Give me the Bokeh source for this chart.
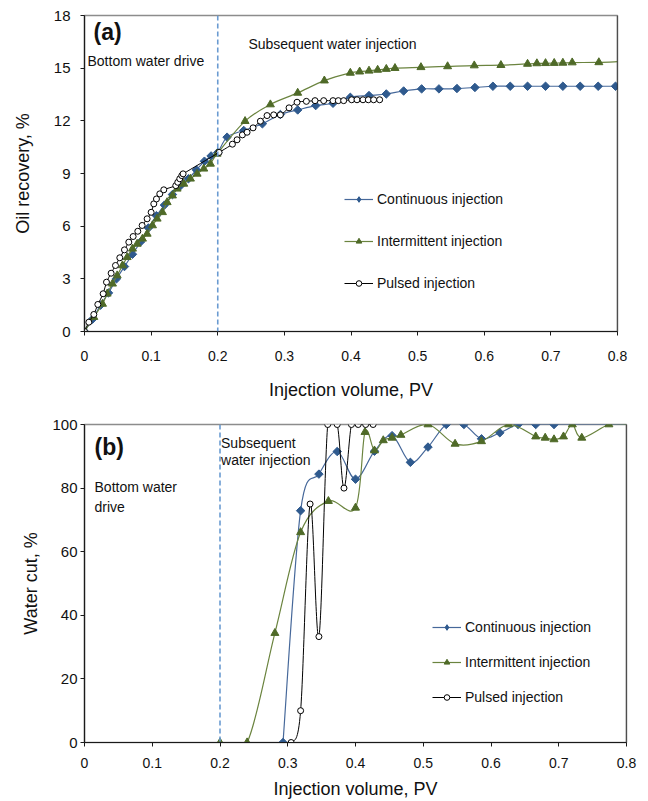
import numpy as np
from bokeh.plotting import figure
from bokeh.models import (Range1d, FixedTicker, Span, Label, Legend, LegendItem, ColumnDataSource)
from bokeh.layouts import column
from bokeh.embed import file_html
from bokeh.resources import INLINE

FONT = "Liberation Sans"

# ---------------- data: panel (a) oil recovery ----------------
x_ticks = [0, 0.1, 0.2, 0.3, 0.4, 0.5, 0.6, 0.7, 0.8]
x_tick_labels = ["0", "0.1", "0.2", "0.3", "0.4", "0.5", "0.6", "0.7", "0.8"]
ya_ticks = [0, 3, 6, 9, 12, 15, 18]
yb_ticks = [0, 20, 40, 60, 80, 100]

cont_a_x = [0, 0.012, 0.024, 0.036, 0.048, 0.06, 0.072, 0.084, 0.096, 0.108, 0.12,
            0.132, 0.144, 0.156, 0.168, 0.18, 0.19, 0.2, 0.214, 0.239, 0.267, 0.294,
            0.320, 0.347, 0.373, 0.399, 0.427, 0.453, 0.479, 0.506, 0.532, 0.559,
            0.586, 0.613, 0.639, 0.665, 0.692, 0.718, 0.744, 0.771, 0.797]
cont_a_y = [0, 0.7, 1.5, 2.2, 3.0, 3.7, 4.4, 5.1, 5.9, 6.6, 7.2,
            7.8, 8.3, 8.7, 9.2, 9.7, 10.0, 10.2, 11.07, 11.45, 11.83, 12.36,
            12.62, 12.87, 13.0, 13.34, 13.44, 13.53, 13.70, 13.82, 13.82, 13.84,
            13.90, 13.97, 13.97, 13.97, 13.97, 13.97, 13.97, 13.97, 13.97]

int_a_x = [0, 0.014, 0.027, 0.034, 0.042, 0.049, 0.057, 0.064, 0.072, 0.079, 0.087,
           0.094, 0.102, 0.109, 0.117, 0.124, 0.132, 0.139, 0.149, 0.159, 0.169,
           0.179, 0.189, 0.199, 0.241, 0.279, 0.320, 0.360, 0.399, 0.413, 0.427,
           0.440, 0.453, 0.466, 0.505, 0.545, 0.585, 0.625, 0.665, 0.679, 0.692,
           0.705, 0.718, 0.732, 0.772, 0.8]
int_a_y = [0, 0.82, 1.57, 2.15, 2.72, 3.19, 3.76, 4.23, 4.71, 4.99, 5.28,
           5.56, 6.04, 6.42, 6.79, 7.36, 7.74, 8.13, 8.41, 8.70, 8.98,
           9.27, 9.55, 10.12, 11.98, 12.93, 13.59, 14.29, 14.73, 14.80, 14.85,
           14.90, 14.95, 15.00, 15.05, 15.10, 15.15, 15.17, 15.24, 15.27, 15.28,
           15.29, 15.30, 15.32, 15.33, 15.37]

pul_a_x = [0, 0.0065, 0.014, 0.020, 0.028, 0.033, 0.040, 0.0465, 0.053, 0.060,
           0.0665, 0.073, 0.080, 0.0865, 0.094, 0.100, 0.104, 0.108, 0.113, 0.119,
           0.137, 0.140, 0.143, 0.146, 0.148, 0.202, 0.222, 0.229, 0.237, 0.244,
           0.253, 0.264, 0.274, 0.284, 0.294, 0.307, 0.319, 0.333, 0.346, 0.359,
           0.373, 0.381, 0.389, 0.401, 0.409, 0.418, 0.426, 0.434, 0.443]
pul_a_y = [0, 0.53, 0.97, 1.54, 2.15, 2.81, 3.32, 3.76, 4.20, 4.65,
           5.09, 5.41, 5.71, 6.04, 6.42, 6.79, 7.27, 7.55, 7.84, 8.07,
           8.31, 8.50, 8.70, 8.88, 8.98, 10.20, 10.67, 10.92, 11.20, 11.35,
           11.60, 11.98, 12.30, 12.34, 12.34, 12.74, 13.06, 13.11, 13.15, 13.15,
           13.15, 13.15, 13.15, 13.20, 13.20, 13.20, 13.20, 13.20, 13.20]

# ---------------- data: panel (b) water cut ----------------
cont_b_x = [0.293, 0.319, 0.346, 0.373, 0.400, 0.428, 0.454, 0.481, 0.507, 0.534,
            0.560, 0.586, 0.613, 0.640, 0.666, 0.693, 0.8]
cont_b_y = [0, 72.9, 84.4, 91.5, 82.8, 91.6, 96.5, 88.1, 92.9, 100,
            100, 95.5, 97.4, 100, 100, 100, 100]

int_b_x = [0.200, 0.240, 0.281, 0.319, 0.360, 0.400, 0.414, 0.428, 0.441, 0.454,
           0.467, 0.507, 0.547, 0.586, 0.626, 0.666, 0.680, 0.693, 0.707, 0.720,
           0.734, 0.774, 0.8]
int_b_y = [0, 0, 34.4, 66.1, 75.9, 73.8, 97.6, 91.8, 95.0, 95.8,
           96.7, 100, 93.9, 94.7, 100, 96.2, 95.8, 95.3, 96.2, 100,
           95.8, 100, 100]

pul_b_x = [0.305, 0.319, 0.333, 0.346, 0.359, 0.373, 0.383, 0.394, 0.404, 0.415, 0.426]
pul_b_y = [0, 10, 75, 33.3, 100, 100, 80, 100, 100, 100, 100]

series_names = ["Continuous injection", "Intermittent injection", "Pulsed injection"]

BLUE_M, BLUE_L = "#2f5a8e", "#46689a"
GREEN_M, GREEN_L = "#4f6a28", "#6b843f"
BLACK = "#000000"


def smooth_source(xs, ys, t=1.0 / 6.0):
    """Excel-like smoothed line: cubic Bezier control points from neighbours."""
    xs = np.asarray(xs, float)
    ys = np.asarray(ys, float)
    n = len(xs)
    d = dict(x0=[], y0=[], x1=[], y1=[], cx0=[], cy0=[], cx1=[], cy1=[])
    for i in range(n - 1):
        a = max(i - 1, 0)
        b = min(i + 2, n - 1)
        d["x0"].append(xs[i]); d["y0"].append(ys[i])
        d["x1"].append(xs[i + 1]); d["y1"].append(ys[i + 1])
        d["cx0"].append(xs[i] + (xs[i + 1] - xs[a]) * t)
        d["cy0"].append(ys[i] + (ys[i + 1] - ys[a]) * t)
        d["cx1"].append(xs[i + 1] - (xs[b] - xs[i]) * t)
        d["cy1"].append(ys[i + 1] - (ys[b] - ys[i]) * t)
    return ColumnDataSource(d)


def style(p, yticks, ylabel, ytick_size, ylab_standoff, ytick_standoff):
    p.xgrid.visible = False
    p.ygrid.visible = False
    p.outline_line_color = "#8c8c8c"
    p.outline_line_width = 1.5
    p.background_fill_color = "white"
    p.border_fill_color = "white"
    p.xaxis.ticker = FixedTicker(ticks=x_ticks)
    p.xaxis.major_label_overrides = {t: l for t, l in zip(x_ticks, x_tick_labels)}
    p.yaxis.ticker = FixedTicker(ticks=yticks)
    for ax in (p.xaxis[0], p.yaxis[0]):
        ax.axis_line_color = "#1a1a1a"
        ax.axis_line_width = 1.2
        ax.major_tick_line_color = "#1a1a1a"
        ax.major_tick_out = 4
        ax.major_tick_in = 0
        ax.minor_tick_line_color = None
        ax.major_label_text_font = FONT
        ax.major_label_text_color = "#111111"
        ax.axis_label_text_font = FONT
        ax.axis_label_text_font_style = "normal"
        ax.axis_label_text_font_size = "18px"
        ax.axis_label_text_color = "#111111"
    p.xaxis.axis_label = "Injection volume, PV"
    p.xaxis.major_label_text_font_size = "14px"
    p.yaxis.major_label_text_font_size = ytick_size
    p.yaxis.axis_label = ylabel
    p.yaxis.axis_label_standoff = ylab_standoff
    p.yaxis.major_label_standoff = ytick_standoff
    p.add_layout(Span(location=0.8, dimension="height", line_color="#111111", line_width=1.2))
    p.add_layout(Span(location=0.2, dimension="height", line_color="#6a9bd1",
                      line_width=1.6, line_dash="5 3"))


def add_series(p, xs, ys, name, kind, size, last_marker=True):
    src = smooth_source(xs, ys)
    mx = xs if last_marker else xs[:-1]
    my = ys if last_marker else ys[:-1]
    if kind == "cont":
        rl = p.bezier(source=src, x0="x0", y0="y0", x1="x1", y1="y1", cx0="cx0", cy0="cy0",
                      cx1="cx1", cy1="cy1", line_color=BLUE_L, line_width=1.2)
        # legend glyph (diamond), hidden under the first rotated-square marker
        rk = p.scatter(xs[:1], ys[:1], marker="diamond", size=4,
                       fill_color=BLUE_M, line_color=BLUE_M)
        p.scatter(mx, my, marker="square", angle=np.pi / 4, size=size,
                  fill_color=BLUE_M, line_color=BLUE_M)
        return LegendItem(label=name, renderers=[rl, rk])
    elif kind == "int":
        rl = p.bezier(source=src, x0="x0", y0="y0", x1="x1", y1="y1", cx0="cx0", cy0="cy0",
                      cx1="cx1", cy1="cy1", line_color=GREEN_L, line_width=1.2)
        rm = p.scatter(mx, my, marker="triangle", size=size + 2,
                       fill_color=GREEN_M, line_color=GREEN_M)
    else:
        rl = p.bezier(source=src, x0="x0", y0="y0", x1="x1", y1="y1", cx0="cx0", cy0="cy0",
                      cx1="cx1", cy1="cy1", line_color=BLACK, line_width=1.0)
        rm = p.scatter(mx, my, marker="circle", size=size,
                       fill_color="white", line_color=BLACK, line_width=1)
    return LegendItem(label=name, renderers=[rl, rm])


def make_legend(items, loc, spacing):
    return Legend(items=items, location=loc, orientation="vertical",
                  glyph_width=29, glyph_height=14, spacing=spacing, padding=0, margin=0,
                  label_standoff=4, label_text_font=FONT, label_text_font_size="14px",
                  label_text_color="#111111", label_height=14,
                  border_line_color=None, background_fill_alpha=0)


# ---------------- panel (a) ----------------
pa = figure(width=648, height=405, frame_width=533, frame_height=316,
            x_range=Range1d(0, 0.8), y_range=Range1d(0, 18),
            min_border_left=84, min_border_right=31, min_border_top=15, min_border_bottom=74,
            output_backend="svg", toolbar_location=None)
style(pa, ya_ticks, "Oil recovery, %", "15px", 18, 10)
pa.xaxis.major_label_standoff = 15
pa.xaxis.axis_label_standoff = 16

items_a = [
    add_series(pa, cont_a_x, cont_a_y, series_names[0], "cont", 6),
    add_series(pa, int_a_x, int_a_y, series_names[1], "int", 6, last_marker=False),
    add_series(pa, pul_a_x, pul_a_y, series_names[2], "pul", 6),
]
pa.add_layout(make_legend(items_a, (260, 40), 26))

pa.add_layout(Label(x=0.0135, y=17.08, text="(a)", text_font=FONT, text_font_size="23px",
                    text_font_style="bold", text_baseline="middle", text_color="#111111"))
pa.add_layout(Label(x=0.0045, y=15.43, text="Bottom water drive", text_font=FONT,
                    text_font_size="14px", text_baseline="middle", text_color="#111111"))
pa.add_layout(Label(x=0.246, y=16.4, text="Subsequent water injection", text_font=FONT,
                    text_font_size="14px", text_baseline="middle", text_color="#111111"))

# ---------------- panel (b) ----------------
pb = figure(width=648, height=396, frame_width=542, frame_height=318,
            x_range=Range1d(0, 0.8), y_range=Range1d(0, 100),
            min_border_left=83, min_border_right=23, min_border_top=19, min_border_bottom=59,
            output_backend="svg", toolbar_location=None)
style(pb, yb_ticks, "Water cut, %", "15px", 8, 3)
pb.xaxis.major_label_standoff = 11
pb.xaxis.axis_label_standoff = 8

items_b = [
    add_series(pb, cont_b_x, cont_b_y, series_names[0], "cont", 6, last_marker=False),
    add_series(pb, int_b_x, int_b_y, series_names[1], "int", 6, last_marker=False),
    add_series(pb, pul_b_x, pul_b_y, series_names[2], "pul", 6),
]
pb.add_layout(make_legend(items_b, (348, 37), 19))

pb.add_layout(Label(x=0.0148, y=92.8, text="(b)", text_font=FONT, text_font_size="23px",
                    text_font_style="bold", text_baseline="middle", text_color="#111111"))
pb.add_layout(Label(x=0.0148, y=80.2, text="Bottom water", text_font=FONT,
                    text_font_size="14px", text_baseline="middle", text_color="#111111"))
pb.add_layout(Label(x=0.0148, y=74.2, text="drive", text_font=FONT,
                    text_font_size="14px", text_baseline="middle", text_color="#111111"))
pb.add_layout(Label(x=0.2015, y=94.3, text="Subsequent", text_font=FONT,
                    text_font_size="14px", text_baseline="middle", text_color="#111111"))
pb.add_layout(Label(x=0.2015, y=88.7, text="water injection", text_font=FONT,
                    text_font_size="14px", text_baseline="middle", text_color="#111111"))

layout = column(pa, pb, spacing=0)
open("out.html", "w").write(file_html(layout, INLINE))
